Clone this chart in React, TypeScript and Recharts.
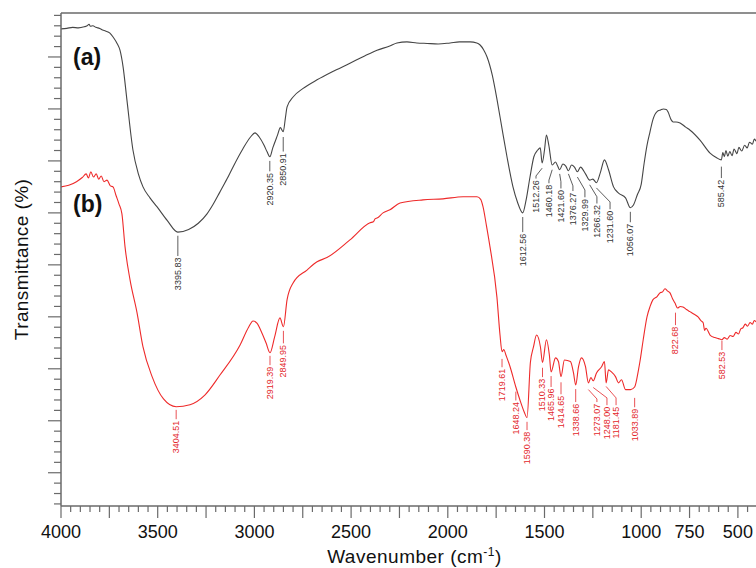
import React from "react";
import { LineChart, Line, XAxis, YAxis, ReferenceLine, ReferenceDot } from "recharts";

// Spectrum (a): [wavenumber cm-1, transmittance]
const seriesA: [number, number][] = [
  [4000, 95.4], [3970, 95.5], [3940, 95.7], [3910, 95.6], [3880, 95.8], [3865, 96.0], [3855, 96.3], [3848, 95.9],
  [3835, 96.0], [3820, 95.7], [3800, 95.5], [3785, 95.2], [3770, 95.0], [3747, 94.6], [3730, 93.8], [3710, 92.6],
  [3695, 91.3], [3679, 88.1], [3659, 81.7], [3628, 72.1], [3600, 67.5], [3576, 65.0], [3540, 62.9], [3504, 61.2],
  [3450, 58.5], [3396, 56.3], [3340, 56.8], [3290, 58.0], [3245, 59.8], [3214, 61.6], [3180, 63.9], [3142, 66.5],
  [3111, 68.8], [3060, 72.3], [3020, 74.6], [2997, 75.4], [2975, 74.6], [2950, 73.0], [2935, 71.8], [2920, 70.8],
  [2905, 72.5], [2880, 75.0], [2866, 76.4], [2851, 75.6], [2840, 78.2], [2831, 80.4], [2800, 82.3], [2750, 83.9],
  [2676, 85.6], [2600, 87.1], [2506, 88.8], [2430, 90.2], [2366, 91.3], [2300, 92.1], [2263, 92.7], [2211, 92.9],
  [2160, 92.7], [2107, 92.6], [2050, 92.5], [1988, 92.7], [1940, 92.9], [1885, 92.9], [1850, 92.7], [1833, 92.3],
  [1815, 91.4], [1797, 90.0], [1770, 86.5], [1745, 81.7], [1720, 76.3], [1694, 70.8], [1663, 65.0], [1640, 62.1],
  [1612.56, 60.0], [1595, 62.5], [1575, 66.9], [1555, 70.8], [1535, 72.1], [1522, 72.5], [1512.26, 69.6], [1500, 72.1],
  [1490, 75.0], [1478, 73.1], [1460.18, 69.2], [1443, 69.8], [1432, 69.0], [1421.6, 68.3], [1405, 69.4], [1390, 69.0],
  [1376.27, 68.1], [1360, 69.2], [1345, 68.8], [1329.99, 67.9], [1314, 68.8], [1288, 67.5], [1266.32, 66.3], [1250, 66.5],
  [1231.6, 65.8], [1210, 67.9], [1190, 70.2], [1169, 68.3], [1143, 65.0], [1117, 63.8], [1081, 62.9], [1056.07, 61.0],
  [1040, 61.5], [1020, 63.5], [1000, 65.5], [985, 69.5], [970, 73.0], [955, 75.5], [939, 78.0], [918, 79.5],
  [900, 79.8], [885, 80.0], [870, 79.9], [861, 79.4], [845, 77.9], [835, 77.5], [820, 77.5], [799, 77.3],
  [770, 76.5], [747, 75.9], [696, 74.0], [644, 71.5], [610, 70.6], [585.42, 70.2], [578, 71.6], [570, 70.8],
  [562, 72.0], [552, 70.9], [542, 71.8], [530, 71.0], [520, 72.3], [505, 71.4], [495, 72.6], [480, 71.9],
  [465, 73.0], [452, 72.5], [440, 73.6], [425, 73.2], [415, 74.2], [406, 73.8],
];

// Spectrum (b)
const seriesB: [number, number][] = [
  [4000, 65.0], [3960, 65.3], [3920, 66.0], [3890, 66.8], [3870, 67.5], [3858, 66.7], [3846, 67.9], [3832, 66.9],
  [3818, 67.5], [3805, 66.5], [3792, 67.1], [3778, 66.0], [3762, 66.3], [3745, 65.2], [3731, 65.0], [3715, 63.3],
  [3700, 61.7], [3685, 59.8], [3669, 53.5], [3643, 47.1], [3607, 40.8], [3576, 34.2], [3529, 28.5], [3470, 24.2],
  [3404.51, 22.7], [3333, 23.1], [3255, 25.0], [3178, 28.8], [3074, 34.6], [3030, 38.0], [3007, 39.2], [2987, 38.8],
  [2960, 36.8], [2940, 35.0], [2919.39, 33.1], [2895, 36.2], [2868, 39.8], [2849.95, 38.1], [2831, 43.3], [2800, 46.5],
  [2728, 49.0], [2676, 50.6], [2625, 51.4], [2506, 54.8], [2402, 58.1], [2385, 58.3], [2375, 58.9], [2366, 59.0],
  [2335, 60.0], [2299, 60.6], [2247, 61.9], [2128, 62.5], [2025, 62.7], [1921, 63.1], [1849, 63.1], [1830, 62.6],
  [1818, 61.2], [1800, 57.5], [1782, 53.5], [1746, 43.8], [1730, 36.5], [1719.61, 33.3], [1710, 33.7], [1700, 32.7],
  [1678, 30.4], [1648.24, 26.5], [1627, 24.0], [1605, 21.7], [1590.38, 20.6], [1573, 31.2], [1557, 34.2], [1541, 36.5],
  [1521, 34.2], [1510.33, 31.2], [1490, 35.6], [1475, 32.7], [1465.96, 29.4], [1443, 32.1], [1428, 31.4], [1414.65, 28.5],
  [1397, 31.7], [1366, 31.4], [1350, 29.2], [1338.66, 26.9], [1324, 30.4], [1309, 32.1], [1288, 30.4], [1273.07, 27.3],
  [1260, 28.3], [1248, 27.7], [1231, 29.2], [1205, 30.4], [1190, 31.4], [1181.45, 27.3], [1169, 29.8], [1154, 29.4],
  [1133, 28.5], [1117, 27.3], [1102, 27.9], [1081, 26.0], [1055, 26.0], [1033.89, 26.5], [1014, 29.8], [1006, 31.5],
  [990, 35.5], [970, 40.0], [954, 42.0], [939, 43.3], [918, 43.9], [903, 44.6], [890, 44.8], [877, 45.4],
  [865, 45.0], [851, 44.6], [838, 43.5], [826, 42.7], [812, 41.7], [798, 42.0], [784, 41.9], [766, 41.4],
  [748, 41.0], [726, 40.5], [706, 40.0], [690, 39.2], [680, 38.9], [672, 37.4], [665, 37.8], [644, 36.5],
  [620, 36.0], [600, 35.8], [582.53, 35.6], [570, 36.0], [555, 35.7], [540, 36.4], [525, 36.2], [510, 37.0],
  [497, 36.7], [485, 37.7], [474, 37.9], [462, 38.6], [450, 38.2], [437, 38.9], [425, 38.6], [415, 39.3], [406, 39.0],
];

// x tick labels
const xTickLabels = [4000, 3500, 3000, 2500, 2000, 1500, 1000, 750, 500];
const xTicks: number[] = [];
for (let v = 4000; v >= 450; v -= 50) xTicks.push(v);
const yTicks: number[] = [];
for (let v = 4; v <= 98; v += 2) yTicks.push(v);

// peak annotations: label, peak wn, text wn, leader start, elbow, text top (transmittance units)
type Ann = { label: string; peak: number; text: number; start: number; elbow: number; top: number };
const annA: Ann[] = [
  { label: "3395.83", peak: 3395.83, text: 3395.83, start: 55.6, elbow: 55.6, top: 51.4 },
  { label: "2920.35", peak: 2920.35, text: 2920.35, start: 70.0, elbow: 70.0, top: 67.7 },
  { label: "2850.91", peak: 2850.91, text: 2850.91, start: 74.6, elbow: 74.6, top: 71.5 },
  { label: "1612.56", peak: 1612.56, text: 1612.56, start: 59.2, elbow: 59.2, top: 56.0 },
  { label: "1512.26", peak: 1512.26, text: 1544, start: 68.6, elbow: 67.1, top: 66.3 },
  { label: "1460.18", peak: 1460.18, text: 1477, start: 68.3, elbow: 66.3, top: 65.4 },
  { label: "1421.60", peak: 1421.6, text: 1415, start: 67.5, elbow: 66.0, top: 64.4 },
  { label: "1376.27", peak: 1376.27, text: 1353, start: 67.5, elbow: 65.2, top: 63.9 },
  { label: "1329.99", peak: 1329.99, text: 1291, start: 66.9, elbow: 64.4, top: 62.7 },
  { label: "1266.32", peak: 1266.32, text: 1229, start: 65.4, elbow: 63.1, top: 61.5 },
  { label: "1231.60", peak: 1231.6, text: 1161, start: 64.8, elbow: 62.1, top: 60.4 },
  { label: "1056.07", peak: 1056.07, text: 1056.07, start: 60.2, elbow: 60.2, top: 57.9 },
  { label: "585.42", peak: 585.42, text: 585.42, start: 68.9, elbow: 68.9, top: 66.4 },
];
const annB: Ann[] = [
  { label: "3404.51", peak: 3404.51, text: 3404.51, start: 22.1, elbow: 22.1, top: 20.0 },
  { label: "2919.39", peak: 2919.39, text: 2919.39, start: 32.5, elbow: 32.5, top: 30.4 },
  { label: "2849.95", peak: 2849.95, text: 2849.95, start: 37.3, elbow: 37.3, top: 34.6 },
  { label: "1719.61", peak: 1719.61, text: 1719.61, start: 31.9, elbow: 31.9, top: 30.0 },
  { label: "1648.24", peak: 1648.24, text: 1648.24, start: 25.6, elbow: 25.6, top: 23.6 },
  { label: "1590.38", peak: 1590.38, text: 1590.38, start: 19.8, elbow: 19.8, top: 17.9 },
  { label: "1510.33", peak: 1510.33, text: 1510.33, start: 30.2, elbow: 30.2, top: 28.1 },
  { label: "1465.96", peak: 1465.96, text: 1465.96, start: 28.6, elbow: 28.6, top: 26.2 },
  { label: "1414.65", peak: 1414.65, text: 1414.65, start: 27.4, elbow: 27.4, top: 24.8 },
  { label: "1338.66", peak: 1338.66, text: 1338.66, start: 26.1, elbow: 26.1, top: 23.3 },
  { label: "1273.07", peak: 1273.07, text: 1229, start: 26.0, elbow: 24.2, top: 23.3 },
  { label: "1248.00", peak: 1248, text: 1177, start: 26.4, elbow: 24.4, top: 22.7 },
  { label: "1181.45", peak: 1181.45, text: 1130, start: 26.6, elbow: 24.4, top: 22.7 },
  { label: "1033.89", peak: 1033.89, text: 1033.89, start: 24.4, elbow: 24.4, top: 22.3 },
  { label: "822.68", peak: 822.68, text: 822.68, start: 40.8, elbow: 40.8, top: 38.1 },
  { label: "582.53", peak: 582.53, text: 582.53, start: 35.4, elbow: 35.4, top: 33.3 },
];

const panelLabels = [
  { label: "(a)", x: 3938, y: 88.5 },
  { label: "(b)", x: 3938, y: 60.2 },
];

const FONT = "'Liberation Sans', Arial, Helvetica, sans-serif";
const AXIS = "#6a6a6a";
const BLACK = "#454545";
const RED = "#ee2a2a";
const X_MIN = 406.4;
const Y_MIN = 3.6;
const Y_MAX = 98.46;

const dataA = seriesA.map(([wn, t]) => ({ wn, t }));
const dataB = seriesB.map(([wn, t]) => ({ wn, t }));

const XTick = (p: any) => {
  const { x, y, payload } = p;
  const v = payload.value;
  const major = v % 250 === 0;
  const lab = xTickLabels.includes(v);
  return (
    <g>
      <line x1={x} x2={x} y1={y} y2={y + (major ? 12 : 6)} stroke={AXIS} strokeWidth={1.2} />
      {lab && (
        <text x={x} y={y + 32} textAnchor="middle" fontSize={18} fill="#111" fontFamily={FONT}>
          {v}
        </text>
      )}
    </g>
  );
};

const YTick = (p: any) => {
  const { x, y, payload } = p;
  const major = payload.value % 10 === 0;
  return <line x1={x - (major ? 13 : 7)} x2={x} y1={y} y2={y} stroke={AXIS} strokeWidth={1.2} />;
};

const XTitle = (p: any) => {
  const vb = p.viewBox || { x: 61, y: 506, width: 695, height: 62 };
  return (
    <text x={vb.x + vb.width / 2 + 6} y={vb.y + 57} textAnchor="middle" fontSize={19} letterSpacing={0.5} fill="#111" fontFamily={FONT}>
      Wavenumber (cm<tspan dy={-7} fontSize={12}>-1</tspan>
      <tspan dy={7}>)</tspan>
    </text>
  );
};

const YTitle = (p: any) => {
  const vb = p.viewBox || { x: 0, y: 13, width: 61, height: 493 };
  const cx = vb.x + 21;
  const cy = vb.y + vb.height / 2;
  return (
    <text x={cx} y={cy} transform={`rotate(-90 ${cx} ${cy})`} textAnchor="middle" dominantBaseline="central" fontSize={19} letterSpacing={0.4} fill="#111" fontFamily={FONT}>
      Transmittance (%)
    </text>
  );
};

const renderAnn = (list: Ann[], color: string, prefix: string) =>
  list.flatMap((a, i) => {
    const els: React.ReactNode[] = [];
    if (a.peak !== a.text || a.start !== a.elbow) {
      els.push(
        <ReferenceLine key={`${prefix}d${i}`} segment={[{ x: a.peak, y: a.start }, { x: a.text, y: a.elbow }]} stroke={color} strokeWidth={0.8} ifOverflow="visible" />
      );
    }
    els.push(
      <ReferenceLine key={`${prefix}v${i}`} segment={[{ x: a.text, y: a.elbow }, { x: a.text, y: a.top + 0.3 }]} stroke={color} strokeWidth={0.8} ifOverflow="visible" />
    );
    els.push(
      <ReferenceDot
        key={`${prefix}t${i}`}
        x={a.text}
        y={a.top}
        r={0}
        ifOverflow="visible"
        shape={(p: any) => (
          <text x={p.cx} y={p.cy} transform={`rotate(-90 ${p.cx} ${p.cy})`} textAnchor="end" dominantBaseline="central" fontSize={9} fill={color} fontFamily={FONT}>
            {a.label}
          </text>
        )}
      />
    );
    return els;
  });

export default function App() {
  return (
    <div style={{ position: "absolute", left: 0, top: 0, width: 756, height: 568, background: "#fff" }}>
      <LineChart width={756} height={568} margin={{ top: 13, right: 0, bottom: 0, left: 0 }}>
        <XAxis
          type="number"
          dataKey="wn"
          domain={[X_MIN, 4000]}
          reversed
          allowDataOverflow
          ticks={xTicks}
          interval={0}
          tick={(p: any) => <XTick {...p} />}
          tickLine={false}
          tickSize={0}
          tickMargin={0}
          height={62}
          axisLine={{ stroke: AXIS, strokeWidth: 1.5 }}
          label={(p: any) => <XTitle {...p} />}
        />
        <YAxis
          type="number"
          domain={[Y_MIN, Y_MAX]}
          allowDataOverflow
          ticks={yTicks}
          interval={0}
          tick={(p: any) => <YTick {...p} />}
          tickLine={false}
          tickSize={0}
          tickMargin={0}
          width={61}
          axisLine={{ stroke: AXIS, strokeWidth: 1.5 }}
          label={(p: any) => <YTitle {...p} />}
        />
        <ReferenceLine y={Y_MAX} stroke={AXIS} strokeWidth={1.5} ifOverflow="visible" />
        {renderAnn(annA, "#333", "a")}
        {renderAnn(annB, "#e3262a", "b")}
        {panelLabels.map((pl, i) => (
          <ReferenceDot
            key={`pl${i}`}
            x={pl.x}
            y={pl.y}
            r={0}
            ifOverflow="visible"
            shape={(p: any) => (
              <text x={p.cx} y={p.cy} fontSize={23} fontWeight="bold" fill="#111" fontFamily={FONT}>
                {pl.label}
              </text>
            )}
          />
        ))}
        <Line data={dataA} dataKey="t" type="monotone" stroke={BLACK} strokeWidth={1.1} dot={false} isAnimationActive={false} />
        <Line data={dataB} dataKey="t" type="monotone" stroke={RED} strokeWidth={1.1} dot={false} isAnimationActive={false} />
      </LineChart>
    </div>
  );
}
